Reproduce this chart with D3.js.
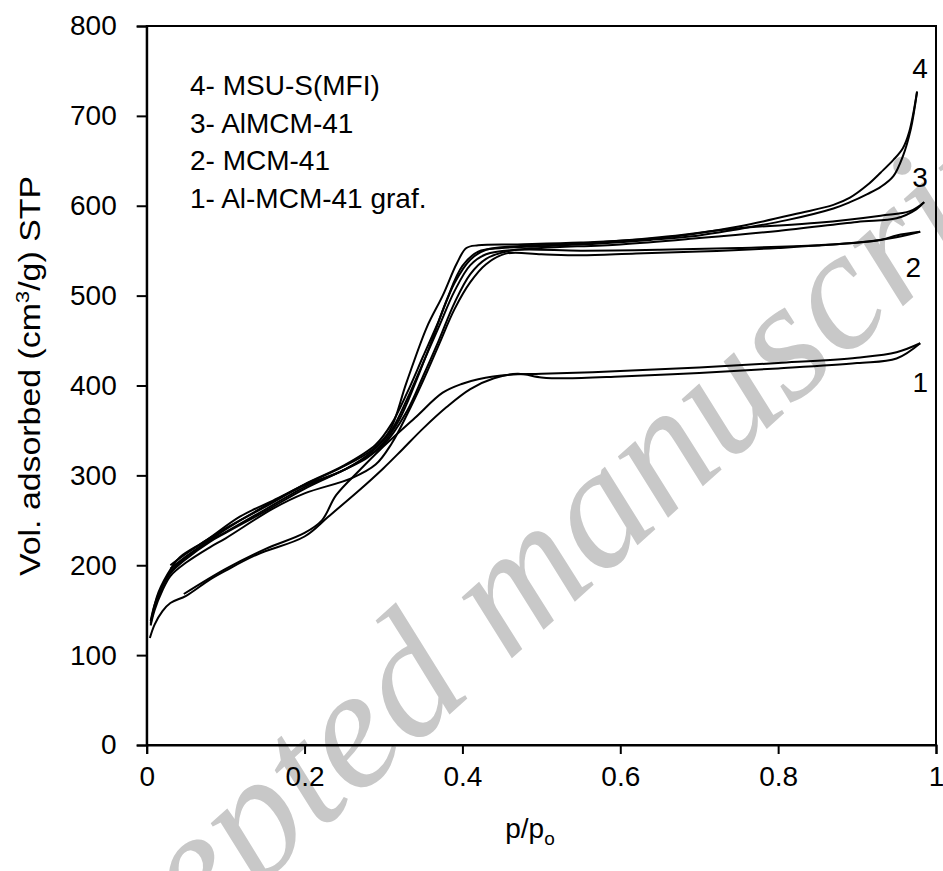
<!DOCTYPE html>
<html><head><meta charset="utf-8">
<script src="https://cdn.jsdelivr.net/npm/d3@7"></script>
<style>
body{margin:0;background:#fff}
text{font-family:Arial,"Liberation Sans",sans-serif;fill:#000}
</style>
</head><body>
<svg id="chart" width="943" height="871"></svg>
<script>
// ---- data ----
const xTicks = [0, 0.2, 0.4, 0.6, 0.8, 1];
const xTickLabels = ["0", "0.2", "0.4", "0.6", "0.8", "1"];
const yTicks = [0, 100, 200, 300, 400, 500, 600, 700, 800];
const legendLabels = ["4- MSU-S(MFI)", "3- AlMCM-41", "2- MCM-41", "1- Al-MCM-41 graf."];
const curveNumbers = ["1", "2", "3", "4"];

// 1- Al-MCM-41 graf.
const ads1 = [[0.004,119],[0.01,134],[0.02,149],[0.03,158],[0.05,166],[0.08,184],[0.1,194],[0.14,212],[0.2,232],[0.23,254],[0.27,284],[0.3,308],[0.323,328],[0.35,352],[0.38,376],[0.41,396],[0.44,408],[0.47,413],[0.5,409],[0.53,408],[0.6,410],[0.7,414],[0.8,419],[0.9,425],[0.95,430],[0.98,447]];
const des1 = [[0.98,447],[0.95,437],[0.9,431],[0.8,425],[0.7,420],[0.6,416],[0.5,413],[0.46,412],[0.42,407],[0.4,402],[0.375,392],[0.34,364],[0.295,328],[0.27,306],[0.24,278],[0.222,250],[0.2,236],[0.15,218],[0.1,196],[0.047,168]];
// 2- MCM-41
const ads2 = [[0.005,133],[0.01,150],[0.02,172],[0.03,188],[0.05,203],[0.08,220],[0.1,230],[0.16,263],[0.2,280],[0.26,297],[0.29,312],[0.31,335],[0.33,368],[0.35,405],[0.37,445],[0.39,485],[0.41,515],[0.43,535],[0.456,547],[0.5,546],[0.55,545],[0.62,547],[0.7,549],[0.8,553],[0.9,559],[0.95,565],[0.98,571]];
const des2 = [[0.98,571],[0.95,567],[0.93,562],[0.85,556],[0.75,553],[0.65,551],[0.55,550],[0.47,551],[0.43,546],[0.41,534],[0.39,505],[0.37,465],[0.35,425],[0.33,385],[0.31,350],[0.29,330],[0.25,306],[0.2,289],[0.15,266],[0.1,240],[0.05,210],[0.03,196]];
// 3- AlMCM-41
const ads3 = [[0.005,138],[0.01,156],[0.02,178],[0.03,193],[0.05,209],[0.08,227],[0.1,237],[0.15,262],[0.2,287],[0.25,306],[0.3,334],[0.33,372],[0.35,410],[0.37,450],[0.39,492],[0.41,524],[0.43,541],[0.46,550],[0.5,553],[0.6,557],[0.7,564],[0.8,572],[0.9,582],[0.95,586],[0.975,596],[0.985,604]];
const des3 = [[0.985,604],[0.967,594],[0.93,589],[0.85,581],[0.75,575],[0.65,565],[0.55,558],[0.47,555],[0.43,551],[0.41,540],[0.39,514],[0.37,472],[0.35,432],[0.33,392],[0.31,357],[0.29,334],[0.25,311],[0.2,290],[0.15,265],[0.1,241],[0.05,213],[0.03,200]];
// 4- MSU-S(MFI)
const ads4 = [[0.005,135],[0.01,153],[0.02,176],[0.03,191],[0.05,207],[0.08,226],[0.1,236],[0.15,260],[0.2,285],[0.25,306],[0.28,320],[0.3,336],[0.32,362],[0.34,402],[0.36,447],[0.38,495],[0.4,533],[0.42,549],[0.45,553],[0.5,555],[0.574,558],[0.638,562],[0.7,567],[0.743,573],[0.811,584],[0.87,597],[0.891,604],[0.913,613],[0.93,621],[0.946,633],[0.958,655],[0.968,685],[0.976,727]];
const des4 = [[0.976,727],[0.966,682],[0.958,664],[0.946,651],[0.93,637],[0.913,623],[0.891,609],[0.87,601],[0.828,592],[0.75,577],[0.65,564],[0.55,559],[0.47,557],[0.42,556],[0.405,553],[0.393,536],[0.375,500],[0.355,465],[0.329,403],[0.308,350],[0.285,328],[0.245,308],[0.203,291],[0.16,272],[0.118,254],[0.076,228],[0.042,209],[0.032,198],[0.015,170],[0.006,140]];

const branches = [ads1, des1, ads2, des2, ads3, des3, ads4, des4];
const curveEnds = [ads1, ads2, ads3, ads4];

// ---- layout ----
const svg = d3.select("#chart");
const x = d3.scaleLinear().domain([0, 1]).range([146.7, 936]);
const y = d3.scaleLinear().domain([0, 800]).range([745, 26]);

// watermark
svg.append("text")
  .attr("transform", "translate(7,1113) rotate(-42)")
  .style("font-family", "'Liberation Serif','Times New Roman',serif")
  .style("font-style", "italic")
  .style("font-size", "172px")
  .style("fill", "#c8c8c8")
  .text("Accepted manuscript");

// curves
const line = d3.line().x(d => x(d[0])).y(d => y(d[1])).curve(d3.curveCatmullRom.alpha(0.5));
svg.append("g").selectAll("path").data(branches).join("path")
  .attr("d", line)
  .attr("fill", "none")
  .attr("stroke", "#000")
  .attr("stroke-width", 2)
  .attr("stroke-linejoin", "round");

// frame
svg.append("rect")
  .attr("x", x(0)).attr("y", y(800))
  .attr("width", x(1) - x(0)).attr("height", y(0) - y(800))
  .attr("fill", "none").attr("stroke", "#000").attr("stroke-width", 2);

// axes
const xAxis = d3.axisBottom(x).tickValues(xTicks).tickSize(9).tickPadding(12)
  .tickFormat((d, i) => xTickLabels[i]);
const gx = svg.append("g").attr("transform", `translate(0,${y(0)})`).call(xAxis);
const yAxis = d3.axisLeft(y).tickValues(yTicks).tickSize(10).tickPadding(20);
const gy = svg.append("g").attr("transform", `translate(${x(0)},0)`).call(yAxis);
[gx, gy].forEach(g => {
  g.select(".domain").attr("stroke-width", 2);
  g.selectAll(".tick line").attr("stroke-width", 2);
  g.selectAll(".tick text").style("font-size", "28px").style("font-family", "Arial,'Liberation Sans',sans-serif");
});

// axis titles
const xt = svg.append("text").attr("x", 530).attr("y", 838).attr("text-anchor", "middle").style("font-size", "28px");
xt.append("tspan").text("p/p");
xt.append("tspan").attr("dy", 7).style("font-size", "19px").text("o");

const yt = svg.append("text")
  .attr("transform", "translate(40,376) rotate(-90)")
  .attr("text-anchor", "middle")
  .attr("textLength", 400)
  .attr("lengthAdjust", "spacingAndGlyphs")
  .style("font-size", "29px");
yt.append("tspan").text("Vol. adsorbed (cm");
yt.append("tspan").attr("dy", -11).style("font-size", "19px").text("3");
yt.append("tspan").attr("dy", 11).text("/g) STP");

// legend
svg.append("g").selectAll("text").data(legendLabels).join("text")
  .attr("x", 190).attr("y", (d, i) => 95 + i * 37.7)
  .style("font-size", "28px")
  .text(d => d);

// curve numbers
const numOffsets = [[0, 39], [-7, 35], [-4, -25], [3, -24]];
svg.append("g").selectAll("text").data(curveEnds).join("text")
  .attr("x", (d, i) => x(d[d.length - 1][0]) + numOffsets[i][0])
  .attr("y", (d, i) => y(d[d.length - 1][1]) + numOffsets[i][1])
  .attr("dy", "0.36em")
  .attr("text-anchor", "middle")
  .style("font-size", "28px")
  .text((d, i) => curveNumbers[i]);
</script>
</body></html>
